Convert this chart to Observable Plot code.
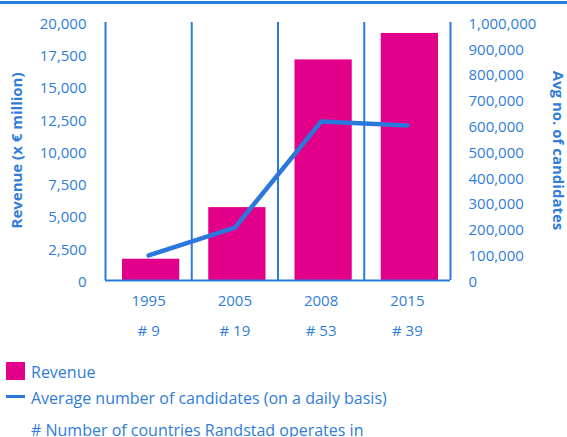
<!DOCTYPE html>
<html>
<head>
<meta charset="utf-8">
<script src="https://cdn.jsdelivr.net/npm/d3@7"></script>
<script src="https://cdn.jsdelivr.net/npm/@observablehq/plot@0.6"></script>
<style>
  body { margin: 0; background: #fff; font-family: "Open Sans", sans-serif; }
  #wrap { position: relative; width: 567px; height: 437px; overflow: hidden; }
  #topline { position: absolute; left: 0; top: 1px; width: 567px; height: 3px; background: #2b7bd9; }
  #chart { position: absolute; left: 0; top: 0; }
  .lg { position: absolute; font-size: 16px; line-height: 18px; color: #2f7dd8; white-space: nowrap; }
</style>
</head>
<body>
<div id="wrap">
  <div id="chart"></div>
  <div id="topline"></div>
  <div style="position:absolute;left:6px;top:362px;width:19px;height:18px;background:#e2008a"></div>
  <div class="lg" style="left:31px;top:363px">Revenue</div>
  <div style="position:absolute;left:6px;top:395px;width:19px;height:3px;background:#2a78dc"></div>
  <div class="lg" style="left:31px;top:389px">Average number of candidates (on a daily basis)</div>
  <div class="lg" style="left:31px;top:421px"># Number of countries Randstad operates in</div>
</div>
<script>
const years = ["1995", "2005", "2008", "2015"];
const countries = [9, 19, 53, 39];
const revenue = [1650, 5650, 17100, 19150];
const candidates = [97000, 205000, 616000, 601000];
const revenueTicks = [0, 2500, 5000, 7500, 10000, 12500, 15000, 17500, 20000];
const candidateTicks = [0, 100000, 200000, 300000, 400000, 500000, 600000, 700000, 800000, 900000, 1000000];

const blue = "#2f7dd8";
const ruleBlue = "#2b7bd9";
const lineBlue = "#2a78dc";
const magenta = "#e2008a";
const ratio = 1000000 / 20000;

const data = years.map((year, i) => ({i, year, countries: countries[i], revenue: revenue[i], candidates: candidates[i]}));

const chart = Plot.plot({
  width: 567,
  height: 345,
  marginLeft: 105,
  marginRight: 117,
  marginTop: 22,
  marginBottom: 65,
  x: {domain: [0, years.length], axis: null},
  y: {domain: [0, 20000], axis: null},
  style: {fontFamily: "'Open Sans', sans-serif", fontSize: "15px", color: blue, background: "transparent"},
  marks: [
    Plot.rectY(data, {x1: "i", x2: d => d.i + 1, y: "revenue", insetLeft: 17, insetRight: 12, fill: magenta}),
    Plot.ruleX(d3.range(years.length + 1), {stroke: ruleBlue, strokeWidth: 2}),
    Plot.ruleY([0], {stroke: ruleBlue, strokeWidth: 2}),
    Plot.line(data, {x: d => d.i + 0.5, y: d => d.candidates / ratio, stroke: lineBlue, strokeWidth: 4.5, strokeLinecap: "round", strokeLinejoin: "round"}),
    Plot.axisY({anchor: "left", ticks: revenueTicks, tickSize: 0, tickPadding: 19, dy: 1.5, tickFormat: d3.format(","), label: null, fontSize: 15}),
    Plot.axisY({anchor: "right", ticks: candidateTicks.map(v => v / ratio), tickSize: 0, tickPadding: 18, dy: 1.5, tickFormat: d => d3.format(",")(Math.round(d * ratio)), label: null, fontSize: 15}),
    Plot.text(data, {x: d => d.i + 0.5, text: "year", frameAnchor: "bottom", dy: 25, fontSize: 15}),
    Plot.text(data, {x: d => d.i + 0.5, text: d => "# " + d.countries, frameAnchor: "bottom", dy: 55, fontSize: 15}),
    Plot.text(["Revenue (x € million)"], {text: d => d, frameAnchor: "left", textAnchor: "middle", dx: -88, dy: -1, rotate: -90, fontWeight: "bold", fontSize: 15}),
    Plot.text(["Avg no. of candidates"], {text: d => d, frameAnchor: "right", textAnchor: "middle", dx: 107, dy: -1, rotate: 90, fontWeight: "bold", fontSize: 15})
  ]
});
document.getElementById("chart").appendChild(chart);
</script>
</body>
</html>
